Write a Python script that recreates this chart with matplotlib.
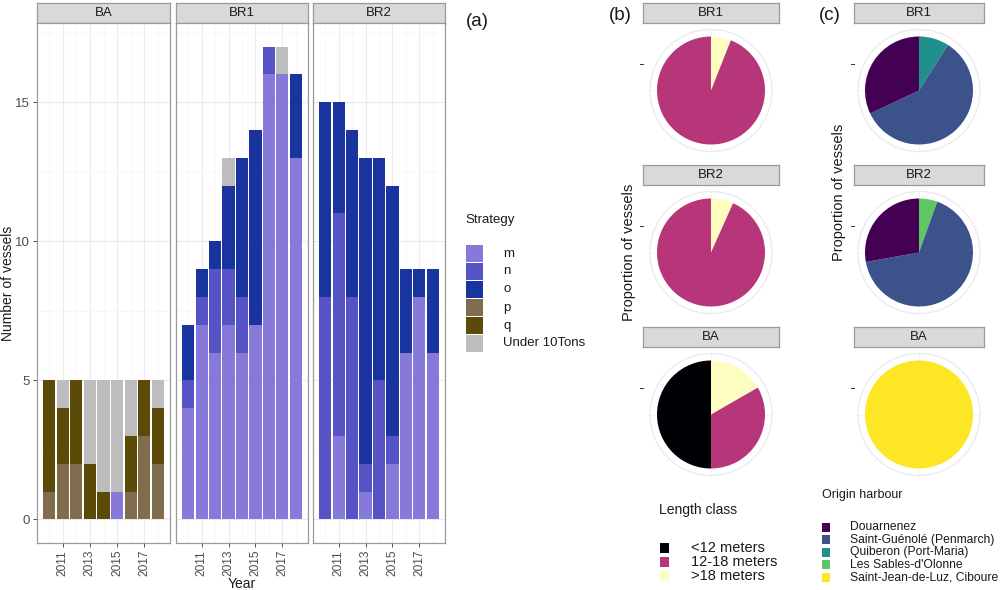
import matplotlib
matplotlib.use("Agg")
import matplotlib.pyplot as plt
import numpy as np
from matplotlib.patches import Rectangle, Circle

plt.rcParams['font.family'] = ['Liberation Sans', 'DejaVu Sans']

# ---------------- data ----------------
years = [2010, 2011, 2012, 2013, 2014, 2015, 2016, 2017, 2018]
year_ticks = [2011, 2013, 2015, 2017]
strategies = ['m', 'n', 'o', 'p', 'q', 'Under 10Tons']
strategy_colors = ['#8779D9', '#5553C6', '#1A349F', '#7F6D4D', '#5C4A09', '#BDBDBD']

ba_m = [0, 0, 0, 0, 0, 1, 0, 0, 0]
ba_n = [0, 0, 0, 0, 0, 0, 0, 0, 0]
ba_o = [0, 0, 0, 0, 0, 0, 0, 0, 0]
ba_p = [1, 2, 2, 0, 0, 0, 1, 3, 2]
ba_q = [4, 2, 3, 2, 1, 0, 2, 2, 2]
ba_u = [0, 1, 0, 3, 4, 4, 2, 0, 1]

br1_m = [4, 7, 6, 7, 6, 7, 16, 16, 13]
br1_n = [1, 1, 3, 2, 2, 0, 1, 0, 0]
br1_o = [2, 1, 1, 3, 5, 7, 0, 0, 3]
br1_p = [0, 0, 0, 0, 0, 0, 0, 0, 0]
br1_q = [0, 0, 0, 0, 0, 0, 0, 0, 0]
br1_u = [0, 0, 0, 1, 0, 0, 0, 1, 0]

br2_m = [0, 3, 0, 1, 0, 2, 6, 8, 6]
br2_n = [8, 8, 8, 1, 5, 1, 0, 0, 0]
br2_o = [7, 4, 6, 11, 8, 9, 3, 1, 3]
br2_p = [0, 0, 0, 0, 0, 0, 0, 0, 0]
br2_q = [0, 0, 0, 0, 0, 0, 0, 0, 0]
br2_u = [0, 0, 0, 0, 0, 0, 0, 0, 0]

length_classes = ['<12 meters', '12-18 meters', '>18 meters']
length_colors = ['#000004', '#B63679', '#FCFDBF']
len_br1 = [0.0, 0.94, 0.06]
len_br2 = [0.0, 0.933, 0.067]
len_ba = [0.5, 0.333, 0.167]

harbours = ['Douarnenez', 'Saint-Guénolé (Penmarch)', 'Quiberon (Port-Maria)',
            "Les Sables-d'Olonne", 'Saint-Jean-de-Luz, Ciboure']
harbour_colors = ['#440154', '#3B528B', '#21908C', '#5DC863', '#FDE725']
harb_br1 = [0.32, 0.59, 0.09, 0.0, 0.0]
harb_br2 = [0.278, 0.667, 0.0, 0.055, 0.0]
harb_ba = [0.0, 0.0, 0.0, 0.0, 1.0]

# ---------------- layout helpers ----------------
W, H = 1000, 590
fig = plt.figure(figsize=(10, 5.9), dpi=100)

def ax_px(x0, y0, x1, y1, **kw):
    return fig.add_axes([x0 / W, 1 - y1 / H, (x1 - x0) / W, (y1 - y0) / H], **kw)

def ftext(x, y, s, **kw):
    return fig.text(x / W, 1 - y / H, s, **kw)

GRAY_EDGE = '#9a9a9a'
STRIP_BG = '#D9D9D9'
TXT = '#1A1A1A'

def strip(x0, y0, x1, y1, label):
    a = ax_px(x0, y0, x1, y1)
    a.set_xlim(0, 1); a.set_ylim(0, 1)
    a.set_xticks([]); a.set_yticks([])
    a.set_facecolor(STRIP_BG)
    for s in a.spines.values():
        s.set_color(GRAY_EDGE); s.set_linewidth(0.9)
    a.text(0.5, 0.5, label, ha='center', va='center', fontsize=9.5, color=TXT)
    return a

# ---------------- (a) stacked bars ----------------
panels = [
    ('BA', [ba_m, ba_n, ba_o, ba_p, ba_q, ba_u], 37, 170),
    ('BR1', [br1_m, br1_n, br1_o, br1_p, br1_q, br1_u], 176, 308),
    ('BR2', [br2_m, br2_n, br2_o, br2_p, br2_q, br2_u], 313, 445),
]
top_strip, top_plot, bot_plot = 3, 23, 543
for i, (name, series, x0, x1) in enumerate(panels):
    strip(x0, top_strip, x1, top_plot, name)
    ax = ax_px(x0, top_plot, x1, bot_plot)
    bottom = np.zeros(len(years))
    for vals, col in zip(series, strategy_colors):
        v = np.array(vals, dtype=float)
        ax.bar(years, v, width=0.9, bottom=bottom, color=col, edgecolor='none', zorder=3)
        bottom += v
    ax.set_xlim(2009.1, 2018.9)
    ax.set_ylim(-0.85, 17.85)
    ax.set_xticks(year_ticks)
    ax.set_xticks([2010, 2012, 2014, 2016, 2018], minor=True)
    ax.set_yticks([0, 5, 10, 15])
    ax.set_yticks([2.5, 7.5, 12.5, 17.5], minor=True)
    ax.grid(True, which='major', color='#EBEBEB', linewidth=0.8, zorder=0)
    ax.grid(True, which='minor', color='#F5F5F5', linewidth=0.5, zorder=0)
    ax.set_xticklabels([str(y) for y in year_ticks], rotation=90, fontsize=8.6, color='#4D4D4D')
    ax.tick_params(which='minor', length=0)
    ax.tick_params(which='major', length=3, color='#333333', width=0.6, pad=2)
    if i == 0:
        ax.set_yticklabels(['0', '5', '10', '15'], fontsize=9.5, color='#4D4D4D')
    else:
        ax.tick_params(axis='y', left=False, labelleft=False)
    for s in ax.spines.values():
        s.set_color(GRAY_EDGE); s.set_linewidth(0.9)

ftext(8, 283, 'Number of vessels', rotation=90, fontsize=10, color=TXT, va='center', ha='center')
ftext(242, 584, 'Year', fontsize=10, color=TXT, va='center', ha='center')

# Strategy legend
ftext(465, 220, 'Strategy', fontsize=9.5, color=TXT, va='center', ha='left')
for k, (lab, col) in enumerate(zip(strategies, strategy_colors)):
    yc = 253.5 + k * 18
    fig.patches.append(Rectangle((466 / W, 1 - (yc + 8.5) / H), 17 / W, 17 / H,
                                 transform=fig.transFigure, facecolor=col, edgecolor='none'))
    ftext(503, yc, lab, fontsize=9.5, color=TXT, va='center', ha='left')

ftext(466, 21, '(a)', fontsize=13.5, color=TXT, va='center', ha='left')
ftext(609, 16, '(b)', fontsize=13.5, color=TXT, va='center', ha='left')
ftext(819, 16, '(c)', fontsize=13.5, color=TXT, va='center', ha='left')

# ---------------- pies ----------------
def pie_panel(x0, x1, ys, label, vals, cols):
    y0s, y0p, y1p = ys
    strip(x0, y0s, x1, y0p, label)
    a = ax_px(x0, y0p, x1, y1p)
    w = x1 - x0; h = y1p - y0p
    lim = 1.25
    a.add_patch(Circle((0, 0), 1.13, fill=False, edgecolor='#EBEBF2', linewidth=1.0, zorder=0))
    for ang in (0, 90, 180, 270):
        t = np.deg2rad(ang)
        a.plot([0, 1.13 * np.cos(t)], [0, 1.13 * np.sin(t)], color='#F0F0F0', lw=0.6, zorder=0)
    # ggplot polar: first wedge clockwise from 12 o'clock is the last level
    rv = list(vals)[::-1]
    rc = list(cols)[::-1]
    a.pie(rv, colors=rc, startangle=90, counterclock=False, radius=1.0,
          wedgeprops=dict(edgecolor='none', linewidth=0))
    a.set_aspect('auto')
    a.set_xlim(-lim * w / h, lim * w / h)
    a.set_ylim(-lim, lim)
    a.set_xticks([]); a.set_yticks([])
    for s in a.spines.values():
        s.set_color(GRAY_EDGE); s.set_linewidth(0.9)
    ty = y0p + h * 0.30
    fig.lines.append(plt.Line2D([(x0 - 3) / W, (x0 - 0.5) / W], [1 - ty / H, 1 - ty / H],
                                transform=fig.transFigure, color='#333333', lw=0.7))
    return a

rows = [(3, 23, 158), (165, 185, 320), (327, 347, 482)]
b_vals = [('BR1', len_br1), ('BR2', len_br2), ('BA', len_ba)]
for (lab, v), ys in zip(b_vals, rows):
    pie_panel(643, 779, ys, lab, v, length_colors)
c_vals = [('BR1', harb_br1), ('BR2', harb_br2), ('BA', harb_ba)]
for (lab, v), ys in zip(c_vals, rows):
    pie_panel(854, 984, ys, lab, v, harbour_colors)

ftext(629, 252, 'Proportion of vessels', rotation=90, fontsize=10.5, color=TXT, va='center', ha='center')
ftext(839, 192, 'Proportion of vessels', rotation=90, fontsize=10.5, color=TXT, va='center', ha='center')

# Length class legend
ftext(659, 510, 'Length class', fontsize=10, color=TXT, va='center', ha='left')
for k, (lab, col) in enumerate(zip(length_classes, length_colors)):
    yc = 548 + k * 14
    fig.patches.append(Rectangle((660 / W, 1 - (yc + 5) / H), 9 / W, 10 / H,
                                 transform=fig.transFigure, facecolor=col, edgecolor='none'))
    ftext(691, yc, lab, fontsize=10.5, color=TXT, va='center', ha='left')

# Origin harbour legend
ftext(822, 495, 'Origin harbour', fontsize=9, color=TXT, va='center', ha='left')
for k, (lab, col) in enumerate(zip(harbours, harbour_colors)):
    yc = 527 + k * 12.5
    fig.patches.append(Rectangle((822 / W, 1 - (yc + 4.5) / H), 8 / W, 9 / H,
                                 transform=fig.transFigure, facecolor=col, edgecolor='none'))
    ftext(850, yc, lab, fontsize=8.7, color=TXT, va='center', ha='left')

fig.savefig('out.png', dpi=100, facecolor='white')
